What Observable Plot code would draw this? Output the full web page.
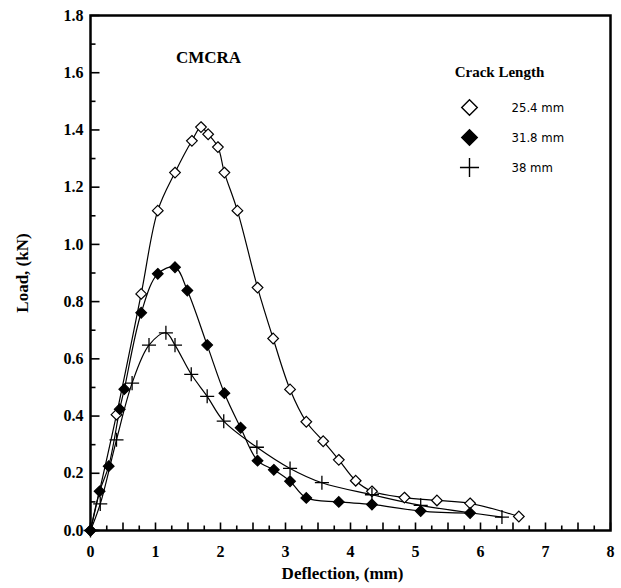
<!DOCTYPE html>
<html>
<head>
<meta charset="utf-8">
<script src="https://cdn.jsdelivr.net/npm/d3@7"></script>
<script src="https://cdn.jsdelivr.net/npm/@observablehq/plot@0.6"></script>
<style>
  body { margin: 0; background: white; }
</style>
</head>
<body>
<div id="chart"></div>
<script>
// ---- Data ----
const seriesNames = ["25.4 mm", "31.8 mm", "38 mm"];

const x254 = [0, 0.40, 0.78, 1.035, 1.30, 1.56, 1.70, 1.81, 1.96, 2.06, 2.26, 2.57, 2.81, 3.07, 3.32, 3.58, 3.82, 4.08, 4.33, 4.83, 5.33, 5.84, 6.59];
const y254 = [0, 0.405, 0.827, 1.118, 1.251, 1.362, 1.41, 1.385, 1.34, 1.251, 1.118, 0.849, 0.671, 0.493, 0.38, 0.312, 0.247, 0.174, 0.137, 0.115, 0.105, 0.095, 0.049];

const x318 = [0, 0.14, 0.28, 0.45, 0.52, 0.78, 1.035, 1.30, 1.49, 1.795, 2.06, 2.31, 2.57, 2.82, 3.07, 3.32, 3.82, 4.33, 5.08, 5.84];
const y318 = [0, 0.137, 0.225, 0.424, 0.494, 0.761, 0.897, 0.92, 0.839, 0.648, 0.48, 0.359, 0.244, 0.212, 0.172, 0.114, 0.10, 0.091, 0.068, 0.061];

const x38 = [0, 0.15, 0.40, 0.64, 0.90, 1.16, 1.30, 1.55, 1.795, 2.05, 2.56, 3.07, 3.56, 4.33, 5.08, 6.33];
const y38 = [0, 0.093, 0.317, 0.515, 0.648, 0.691, 0.648, 0.546, 0.469, 0.382, 0.291, 0.217, 0.167, 0.125, 0.088, 0.047];

const xTickLabels = [0, 1, 2, 3, 4, 5, 6, 7, 8];
const yTickLabels = [0, 0.2, 0.4, 0.6, 0.8, 1.0, 1.2, 1.4, 1.6, 1.8];
const xAllTicks = d3.range(0, 8.001, 0.25);
const yAllTicks = d3.range(0, 1.801, 0.1);

const annotation = "CMCRA";
const legendTitle = "Crack Length";
const xTitle = "Deflection, (mm)";
const yTitle = "Load, (kN)";

// ---- Build tables ----
const toRows = (xs, ys) => xs.map((x, i) => ({x, y: ys[i]}));
const s254 = toRows(x254, y254);
const s318 = toRows(x318, y318);
const s38 = toRows(x38, y38);

const isHalf = v => Math.abs(v * 2 - Math.round(v * 2)) < 1e-6;
const isFifth = v => Math.abs(v * 5 - Math.round(v * 5)) < 1e-6;

// ---- Layout ----
const W = 621, H = 588;
const mL = 90, mR = 11, mT = 15, mB = 58;
const plotW = W - mL - mR, plotH = H - mT - mB;
const xDomain = [0, 8], yDomain = [0, 1.8];
const xPerPx = (xDomain[1] - xDomain[0]) / plotW;
const yPerPx = (yDomain[1] - yDomain[0]) / plotH;
const serif = "'Liberation Serif', 'Times New Roman', serif";
const narrow = "'Liberation Sans Narrow', 'DejaVu Sans Condensed', 'Liberation Sans', sans-serif";

const legendRows = [
  {label: seriesNames[0], symbol: "diamond2", fill: "white", stroke: "black", r: 7},
  {label: seriesNames[1], symbol: "diamond2", fill: "black", stroke: "black", r: 7},
  {label: seriesNames[2], symbol: "plus", fill: "none", stroke: "black", r: 6.2}
];

const legendMarks = legendRows.flatMap((row, i) => [
  Plot.dot([0], {frameAnchor: "top-left", dx: 379, dy: 92 + i * 30, symbol: row.symbol, r: row.r,
    fill: row.fill, stroke: row.stroke, strokeWidth: 1.4}),
  Plot.text([row.label], {frameAnchor: "top-left", dx: 421, dy: 92 + i * 30, textAnchor: "start",
    lineAnchor: "middle", fontFamily: narrow, fontWeight: "normal", fontSize: 13, fill: "black"})
]);

const xTickRows = xAllTicks.map(v => ({x: v, y1: yDomain[0], y2: yDomain[0] + (isHalf(v) ? 8 : 5) * yPerPx}));
const yTickRows = yAllTicks.map(v => ({y: v, x1: xDomain[0], x2: xDomain[0] + (isFifth(v) ? 9 : 5) * xPerPx}));

const chart = Plot.plot({
  width: W, height: H,
  marginLeft: mL, marginRight: mR, marginTop: mT, marginBottom: mB,
  x: {domain: xDomain},
  y: {domain: yDomain},
  style: {fontFamily: serif, fontWeight: "bold", fontSize: "16px", color: "black", background: "white"},
  marks: [
    Plot.axisX(xTickLabels, {tickSize: 0, tickPadding: 15, label: null}),
    Plot.axisY(yTickLabels, {tickSize: 0, tickPadding: 7, label: null, tickFormat: d3.format(".1f")}),
    // curves
    Plot.line(s254, {x: "x", y: "y", curve: "catmull-rom", stroke: "black", strokeWidth: 1.2}),
    Plot.line(s318, {x: "x", y: "y", curve: "catmull-rom", stroke: "black", strokeWidth: 1.2}),
    Plot.line(s38, {x: "x", y: "y", curve: "catmull-rom", stroke: "black", strokeWidth: 1.2}),
    // markers
    Plot.dot(s254, {x: "x", y: "y", symbol: "diamond2", r: 4.8, fill: "white", stroke: "black", strokeWidth: 1.2}),
    Plot.dot(s318, {x: "x", y: "y", symbol: "diamond2", r: 4.8, fill: "black", stroke: "black", strokeWidth: 1.2}),
    Plot.dot(s38, {x: "x", y: "y", symbol: "plus", r: 4.6, stroke: "black", strokeWidth: 1.3}),
    // frame
    Plot.frame({stroke: "black", strokeWidth: 2.5}),
    // inward ticks (drawn last)
    Plot.link(xTickRows, {x1: "x", x2: "x", y1: "y1", y2: "y2", stroke: "black", strokeWidth: 1.6}),
    Plot.link(yTickRows, {y1: "y", y2: "y", x1: "x1", x2: "x2", stroke: "black", strokeWidth: 1.6}),
    // titles
    Plot.text([yTitle], {frameAnchor: "left", dx: -68, rotate: -90, textAnchor: "middle", lineAnchor: "middle",
      fontFamily: serif, fontWeight: "bold", fontSize: 17}),
    Plot.text([xTitle], {frameAnchor: "bottom", dx: -8, dy: 43, textAnchor: "middle", lineAnchor: "middle",
      fontFamily: serif, fontWeight: "bold", fontSize: 17}),
    Plot.text([annotation], {frameAnchor: "top-left", dx: 118, dy: 42, textAnchor: "middle", lineAnchor: "middle",
      fontFamily: serif, fontWeight: "bold", fontSize: 17}),
    Plot.text([legendTitle], {frameAnchor: "top-left", dx: 409, dy: 57, textAnchor: "middle", lineAnchor: "middle",
      fontFamily: serif, fontWeight: "bold", fontSize: 15}),
    ...legendMarks
  ]
});
document.getElementById("chart").appendChild(chart);
</script>
</body>
</html>
